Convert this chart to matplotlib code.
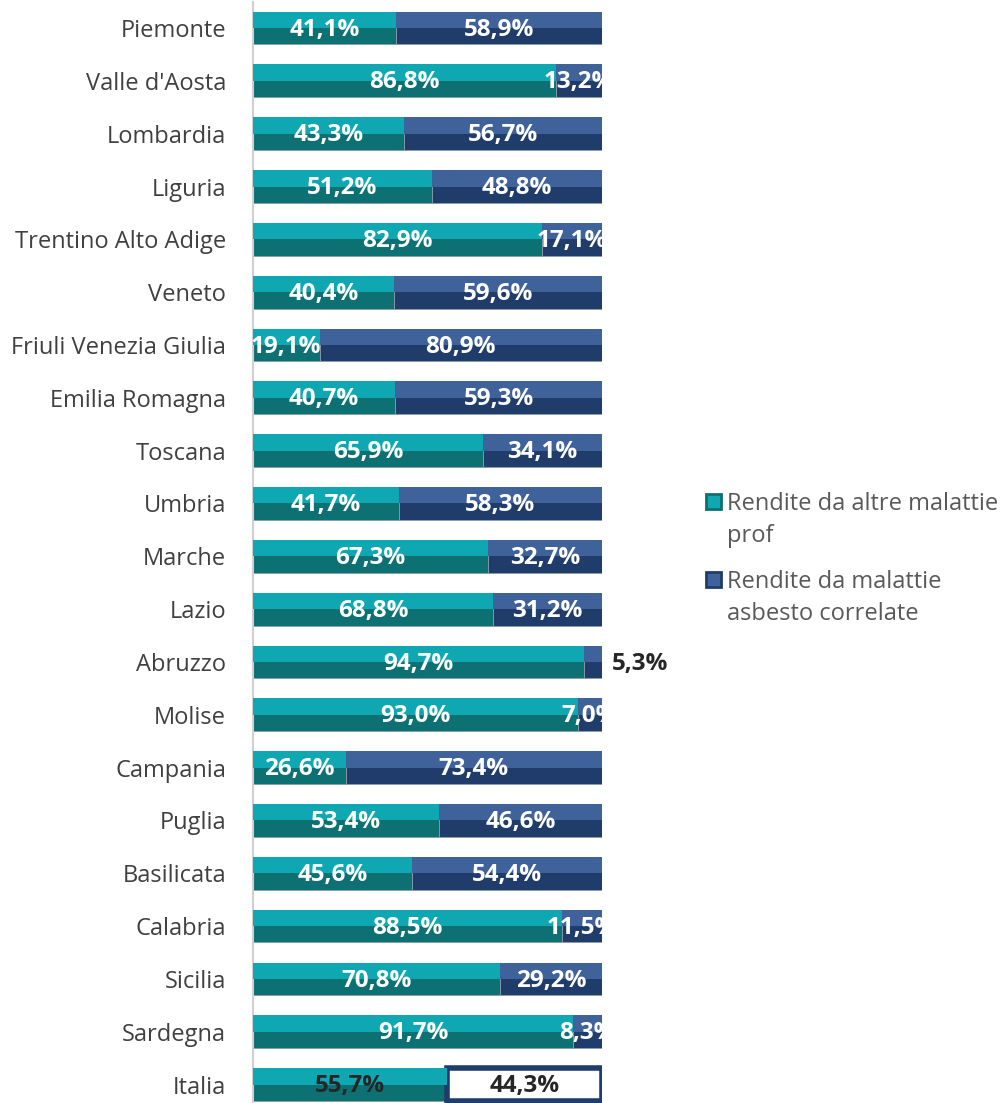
import matplotlib
matplotlib.use("Agg")
import matplotlib.pyplot as plt
from matplotlib.patches import Rectangle
import numpy as np

plt.rcParams['font.family'] = ['Open Sans', 'DejaVu Sans']

regions = ["Piemonte", "Valle d'Aosta", "Lombardia", "Liguria", "Trentino Alto Adige",
           "Veneto", "Friuli Venezia Giulia", "Emilia Romagna", "Toscana", "Umbria",
           "Marche", "Lazio", "Abruzzo", "Molise", "Campania", "Puglia", "Basilicata",
           "Calabria", "Sicilia", "Sardegna", "Italia"]
altre = [41.1, 86.8, 43.3, 51.2, 82.9, 40.4, 19.1, 40.7, 65.9, 41.7, 67.3, 68.8,
         94.7, 93.0, 26.6, 53.4, 45.6, 88.5, 70.8, 91.7, 55.7]
asbesto = [58.9, 13.2, 56.7, 48.8, 17.1, 59.6, 80.9, 59.3, 34.1, 58.3, 32.7, 31.2,
           5.3, 7.0, 73.4, 46.6, 54.4, 11.5, 29.2, 8.3, 44.3]
legend_labels = [["Rendite da altre malattie", "prof"], ["Rendite da malattie", "asbesto correlate"]]

teal_dark, teal_light = "#0d7173", "#0fa8b2"
navy_dark, navy_light = "#203c6a", "#40629a"

W, H = 1003, 1103
fig = plt.figure(figsize=(W/100, H/100), dpi=100)
ax = fig.add_axes([253/W, 1 - 1111/H, (602-253)/W, (1111-1.6)/H])

n = len(regions)
y = np.arange(n)
h = 0.62
a = np.array(altre)
b = np.array(asbesto)

# base (darker lower) bars
ax.barh(y, a, height=h, color=teal_dark, edgecolor="#8a9ea8", linewidth=0.6, zorder=2)
ax.barh(y[:-1], b[:-1], left=a[:-1], height=h, color=navy_dark, edgecolor="#8a9ea8", linewidth=0.6, zorder=2)
# Italia second segment: white with navy border
ax.barh(y[-1:], b[-1:], left=a[-1:], height=h, color="white", edgecolor=navy_dark, linewidth=4, zorder=2)
# lighter top halves (bevel look)
ax.barh(y - h*0.25, a, height=h*0.5, color=teal_light, linewidth=0, zorder=3)
ax.barh(y[:-1] - h*0.25, b[:-1], left=a[:-1], height=h*0.5, color=navy_light, linewidth=0, zorder=3)

fs = 17.5
for i in range(n):
    dark = regions[i] == "Italia"
    tc = "#262626" if dark else "white"
    ax.text(a[i] / 2, y[i] + 0.03, f"{a[i]:.1f}%".replace(".", ","), ha="center", va="center",
            color=tc, fontsize=fs, fontweight="bold", zorder=5)
    lbl = f"{b[i]:.1f}%".replace(".", ",")
    if b[i] < 6:
        ax.text(100 + 2.7, y[i] + 0.03, lbl, ha="left", va="center", color="#262626",
                fontsize=fs, fontweight="bold", zorder=5, clip_on=False)
    else:
        ax.text(a[i] + b[i] / 2, y[i] + 0.03, lbl, ha="center", va="center",
                color=tc, fontsize=fs, fontweight="bold", zorder=5)

ax.set_xlim(0, 100)
ax.set_ylim(n - 0.5, -0.5)
ax.set_yticks(y)
ax.set_yticklabels(regions, fontsize=17, color="#404040")
ax.tick_params(axis="y", length=0, pad=19.5)
ax.set_xticks([])
for s in ["top", "right", "bottom"]:
    ax.spines[s].set_visible(False)
ax.spines["left"].set_color("#d0d0d0")
ax.spines["left"].set_linewidth(1.5)

# legend (manual, to match first-line alignment of markers)
leg_colors = [(teal_light, teal_dark), (navy_light, navy_dark)]
baselines = [510, 588]
for (fc, ec), lines, bl in zip(leg_colors, legend_labels, baselines):
    fig.patches.append(Rectangle((706/W, 1 - (bl - 1)/H), 15/W, 15/H, transform=fig.transFigure,
                                 facecolor=fc, edgecolor=ec, linewidth=2))
    for k, line in enumerate(lines):
        fig.text(727/W, 1 - (bl + 32*k)/H, line, ha="left", va="baseline", fontsize=17,
                 color="#595959")

fig.savefig("out.png", dpi=100)
